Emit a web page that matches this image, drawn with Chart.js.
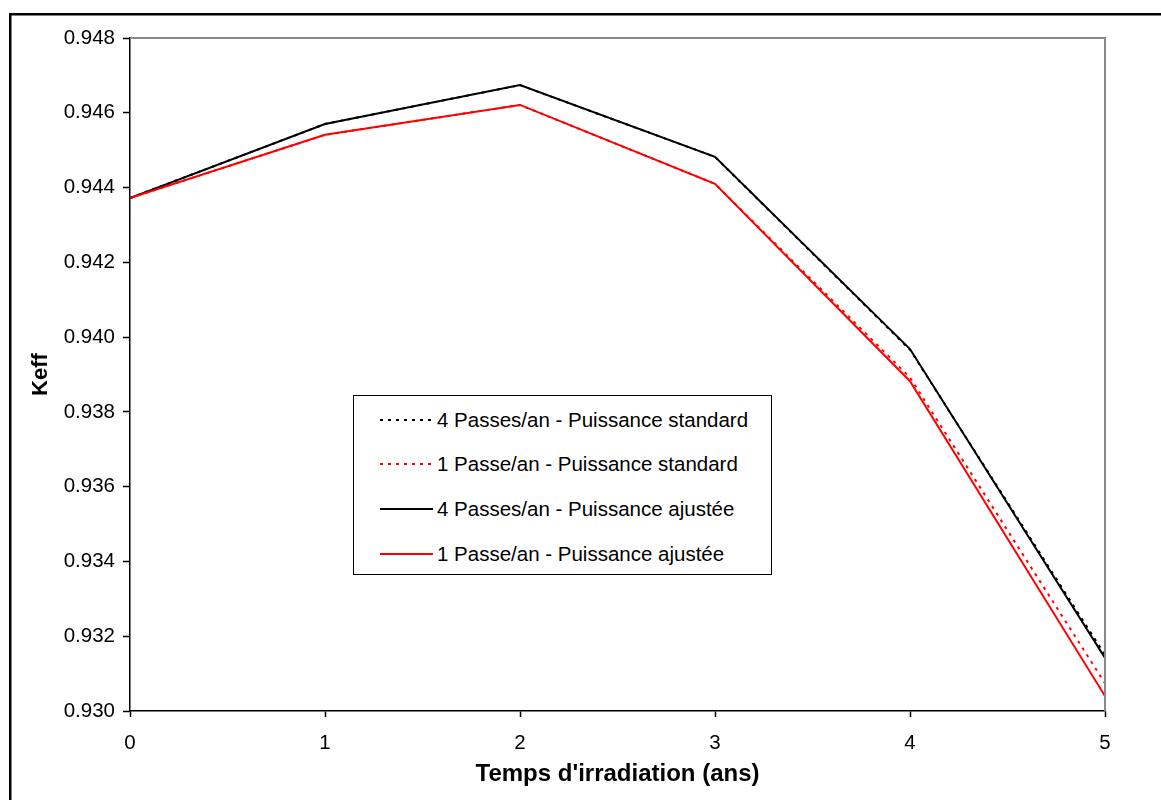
<!DOCTYPE html>
<html><head><meta charset="utf-8">
<script src="https://cdn.jsdelivr.net/npm/chart.js@4"></script>
<style>
html,body{margin:0;padding:0;background:#fff;}
#wrap{position:relative;width:1161px;height:800px;}
#legend{position:absolute;left:353px;top:395px;width:419px;height:180px;border:1px solid #000;background:#fff;box-sizing:border-box;font-family:"Liberation Sans",Arial,sans-serif;font-size:20.5px;color:#000;}
.item{position:absolute;left:26px;height:24px;display:flex;align-items:center;white-space:nowrap;}
.item svg{margin-right:4px;}
</style></head>
<body>
<div id="wrap">
<canvas id="c" width="1161" height="800"></canvas>
<div id="legend"></div>
</div>
<script>
// Data
const years = [0, 1, 2, 3, 4, 5];
const seriesLabels = [
  "4 Passes/an - Puissance standard",
  "1 Passe/an - Puissance standard",
  "4 Passes/an - Puissance ajustée",
  "1 Passe/an - Puissance ajustée"
];
const passes4Standard = [0.94372, 0.94570, 0.94674, 0.94482, 0.93966, 0.93150];
const passe1Standard  = [0.94372, 0.94541, 0.94621, 0.94410, 0.93892, 0.93074];
const passes4Ajustee  = [0.94372, 0.94570, 0.94674, 0.94482, 0.93968, 0.93142];
const passe1Ajustee   = [0.94372, 0.94541, 0.94621, 0.94410, 0.93882, 0.93040];
const yTicks = [0.930, 0.932, 0.934, 0.936, 0.938, 0.940, 0.942, 0.944, 0.946, 0.948];
const xTicks = [0, 1, 2, 3, 4, 5];
const xTitle = "Temps d'irradiation (ans)";
const yTitle = "Keff";

const FONT = '"Liberation Sans", Arial, sans-serif';
const toPts = arr => arr.map((v, i) => ({x: years[i], y: v}));

const seriesValues = [passes4Standard, passe1Standard, passes4Ajustee, passe1Ajustee];
const seriesColors = ['#000000', '#ff0000', '#000000', '#ff0000'];
const seriesDash = [[3, 5], [3, 5], [], []];
const seriesOrder = [2, 3, 1, 0];

const datasets = seriesLabels.map((lab, i) => ({
  label: lab,
  data: toPts(seriesValues[i]),
  borderColor: seriesColors[i],
  backgroundColor: seriesColors[i],
  borderDash: seriesDash[i],
  borderWidth: 2,
  pointRadius: 0,
  tension: 0,
  fill: false,
  order: seriesOrder[i]
}));

const framePlugin = {
  id: 'frame',
  beforeDraw(chart) {
    const ctx = chart.ctx;
    ctx.save();
    ctx.fillStyle = '#fff';
    ctx.fillRect(0, 0, chart.width, chart.height);
    ctx.fillStyle = '#000';
    ctx.fillRect(9, 13, chart.width - 9, 2.5);
    ctx.fillRect(9, 13, 2.5, chart.height - 13);
    ctx.restore();
  },
  afterDatasetsDraw(chart) {
    const {ctx, chartArea: a} = chart;
    ctx.save();
    ctx.strokeStyle = '#888';
    ctx.lineWidth = 2;
    ctx.beginPath();
    ctx.moveTo(a.left, a.top);
    ctx.lineTo(a.right, a.top);
    ctx.lineTo(a.right, a.bottom);
    ctx.stroke();
    ctx.restore();
  }
};

const chart = new Chart(document.getElementById('c'), {
  type: 'line',
  data: { datasets },
  plugins: [framePlugin],
  options: {
    responsive: false,
    animation: false,
    layout: { padding: { top: 38, right: 56, left: 0, bottom: 0 } },
    plugins: { legend: { display: false }, tooltip: { enabled: false } },
    scales: {
      x: {
        type: 'linear',
        min: 0, max: 5,
        afterBuildTicks: s => { s.ticks = xTicks.map(v => ({value: v})); },
        afterFit: s => { s.height = 89; },
        ticks: { color: '#000', font: { family: FONT, size: 20.5 }, padding: 14, maxRotation: 0 },
        grid: { drawOnChartArea: false, color: '#000', tickLength: 6, tickWidth: 1.5 },
        border: { color: '#000', width: 1.5 },
        title: { display: true, text: xTitle, color: '#000', font: { family: FONT, size: 24, weight: 'bold' }, padding: { top: 0, bottom: 11 } }
      },
      y: {
        type: 'linear',
        min: 0.930, max: 0.948,
        afterBuildTicks: s => { s.ticks = yTicks.map(v => ({value: v})); },
        afterFit: s => { s.width = 130; },
        ticks: { color: '#000', font: { family: FONT, size: 20.5 }, padding: 8, callback: v => Number(v).toFixed(3) },
        grid: { drawOnChartArea: false, color: '#000', tickLength: 7, tickWidth: 1.5 },
        border: { color: '#000', width: 1.5 },
        title: { display: true, text: yTitle, color: '#000', font: { family: FONT, size: 22, weight: 'bold' }, padding: { top: 28, bottom: 0 } }
      }
    }
  }
});

// HTML legend built from the datasets
const legend = document.getElementById('legend');
const centers = [24, 68, 113, 158];
chart.data.datasets.forEach((ds, i) => {
  const it = document.createElement('div');
  it.className = 'item';
  it.style.top = (centers[i] - 12) + 'px';
  const dash = ds.borderDash.length ? ds.borderDash.join(',') : 'none';
  it.innerHTML = '<svg width="53" height="4"><line x1="0" y1="2" x2="53" y2="2" stroke="' + ds.borderColor +
    '" stroke-width="2" stroke-dasharray="' + dash + '"/></svg>';
  const span = document.createElement('span');
  span.textContent = ds.label;
  it.appendChild(span);
  legend.appendChild(it);
});
</script>
</body></html>
